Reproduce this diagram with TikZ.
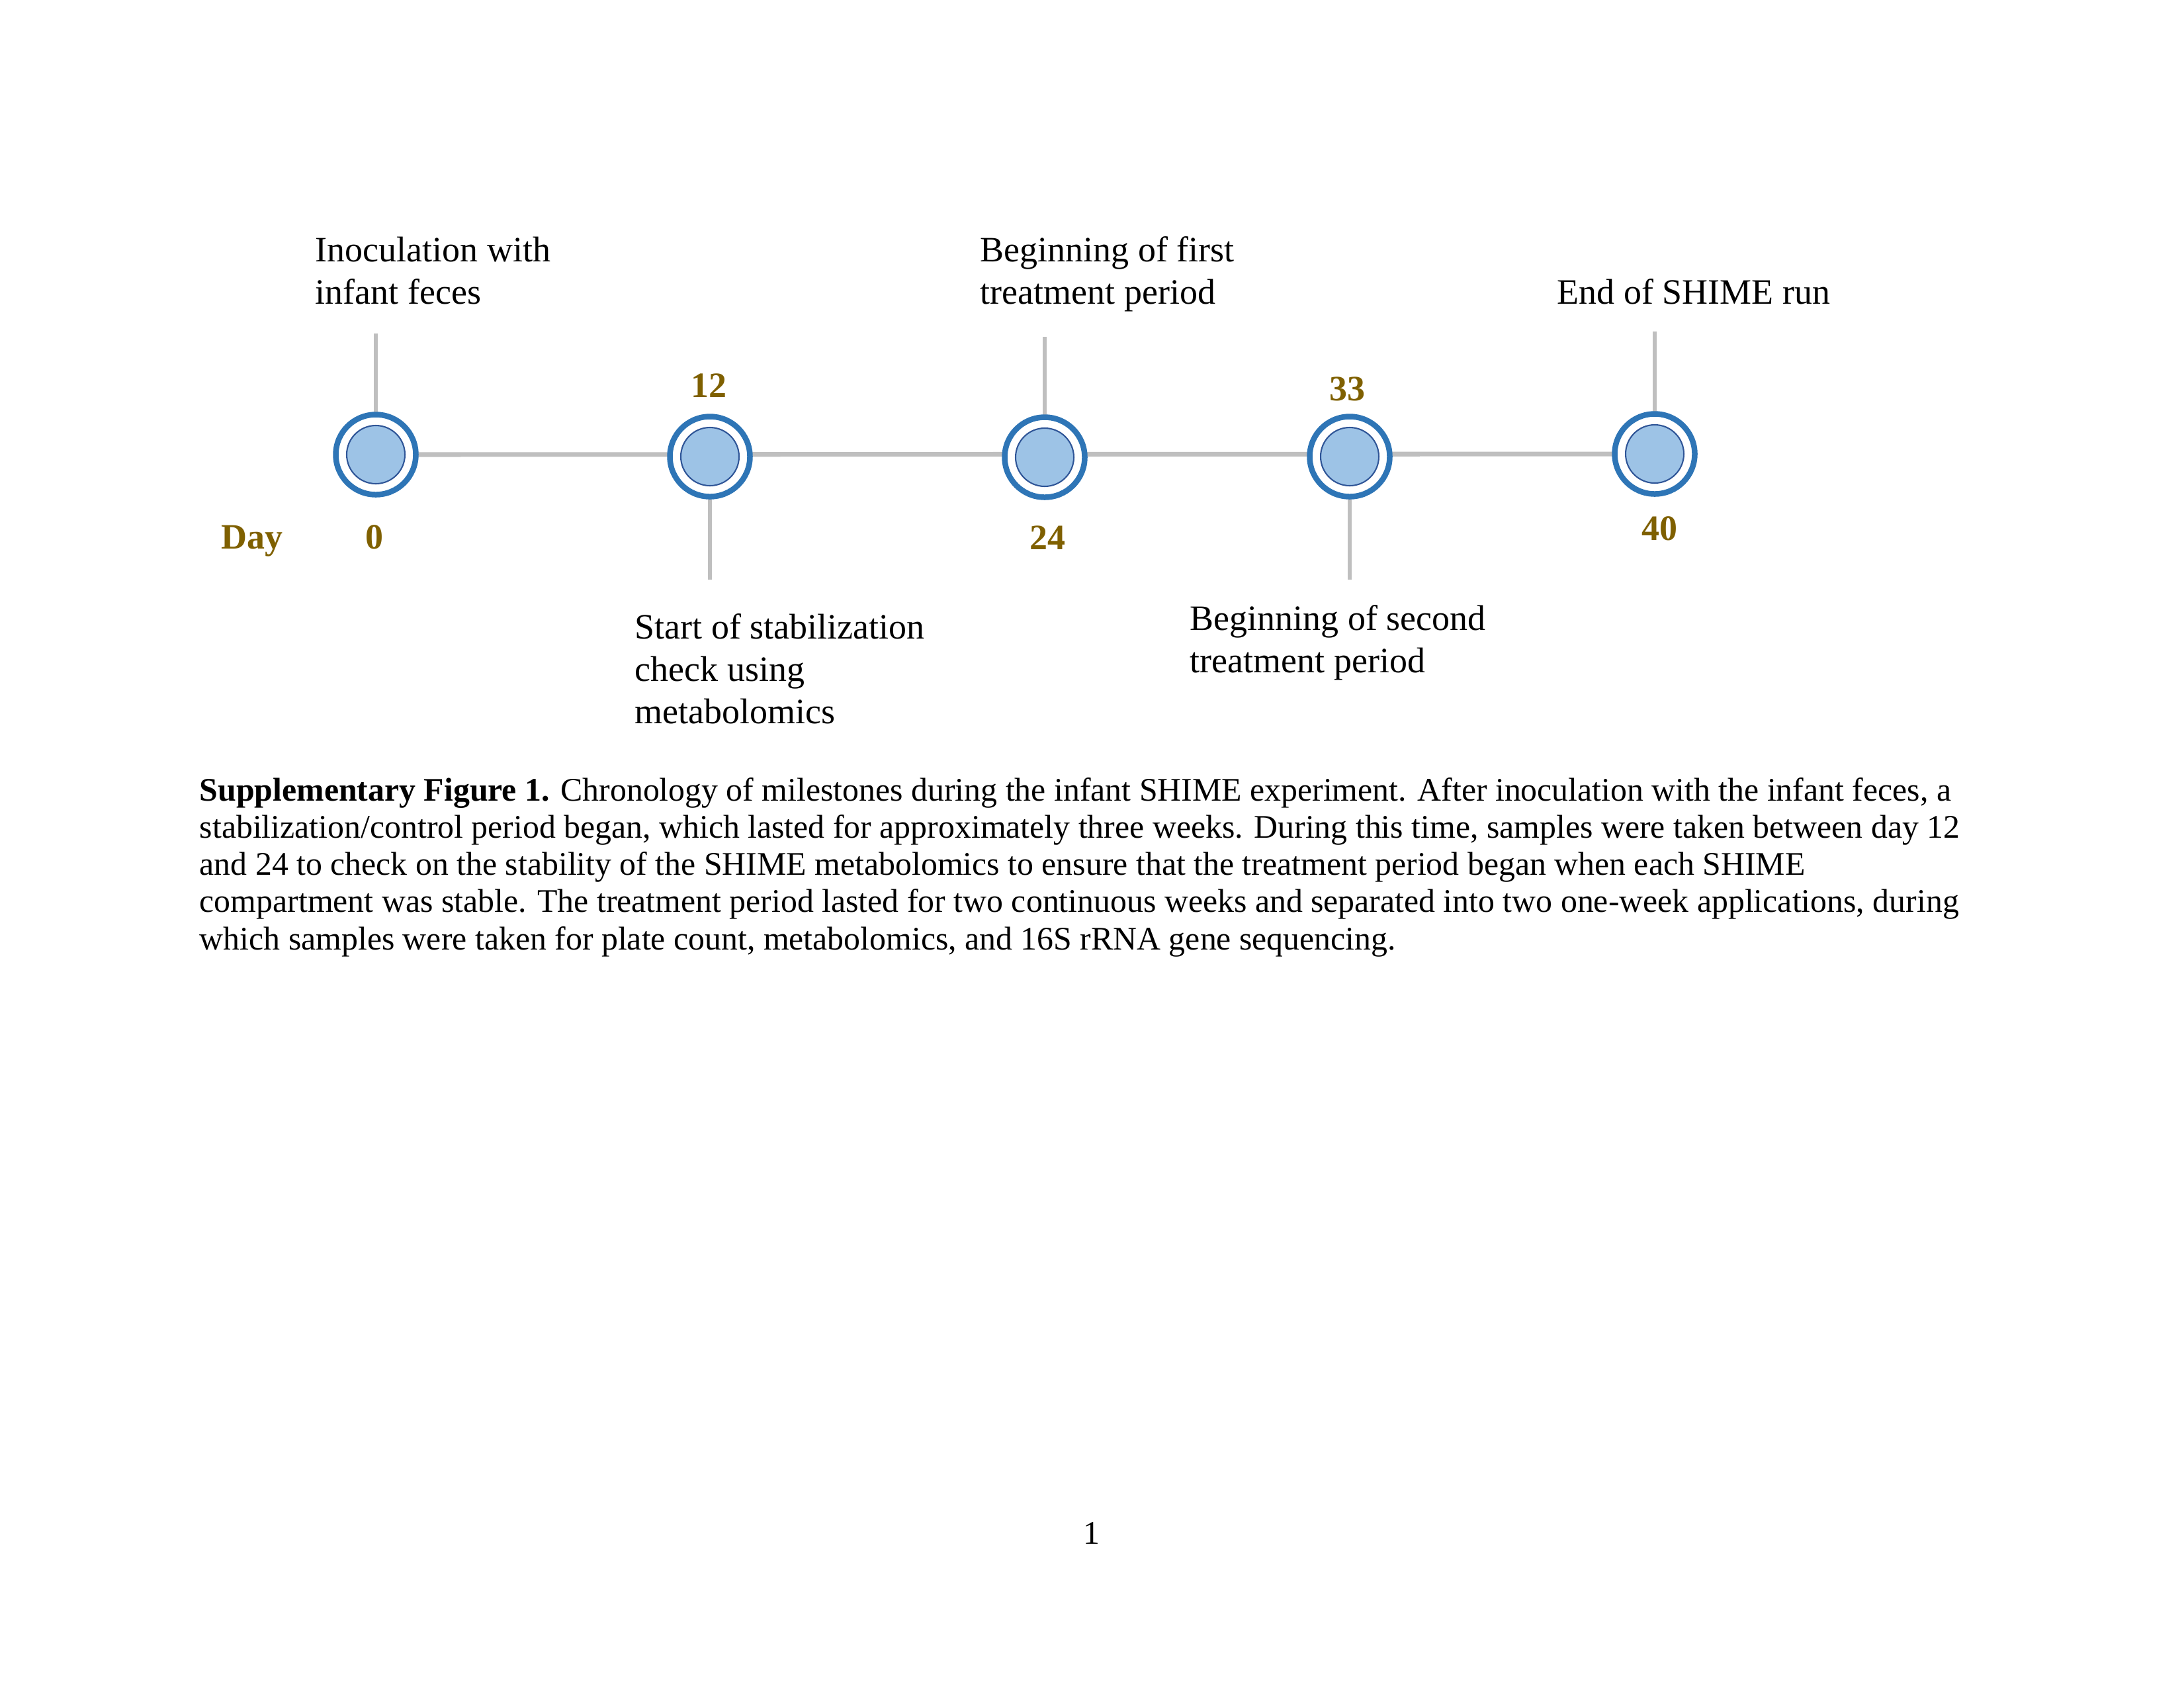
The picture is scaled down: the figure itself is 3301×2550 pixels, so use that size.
\documentclass[tikz,border=0pt]{standalone}
\usepackage{fontspec}
\setmainfont{Liberation Serif}
\usetikzlibrary{backgrounds}
\definecolor{ringblue}{HTML}{2E75B6}
\definecolor{diskfill}{HTML}{9DC3E6}
\definecolor{diskline}{HTML}{2F5597}
\definecolor{daycol}{HTML}{7F6000}
\definecolor{tlgray}{HTML}{BFBFBF}
\tikzset{
  ring/.style={circle, draw=ringblue, fill=white, line width=2.04bp, minimum size=29.04bp, inner sep=0pt},
  disk/.style={circle, draw=diskline, fill=diskfill, line width=0.5bp, minimum size=21.12bp, inner sep=0pt},
  hline/.style={draw=tlgray, line width=1.7bp},
  vline/.style={draw=tlgray, line width=1.5bp},
  lbl/.style={anchor=base west, inner sep=0pt, align=left, font=\fontsize{13}{15.3}\selectfont},
  daynum/.style={anchor=base, inner sep=0pt, text=daycol, font=\fontsize{13}{15}\selectfont\bfseries},
  caption/.style={anchor=base west, inner sep=0pt, align=left, font=\fontsize{12}{13.55}\selectfont}
}
\begin{document}
\begin{tikzpicture}[x=0.24bp, y=-0.24bp]
\useasboundingbox (0,0) rectangle (3301,2550);
% milestone circles
\node[ring] (d0)  at (568,687)  {};
\node[ring] (d12) at (1073,690) {};
\node[ring] (d24) at (1579,691) {};
\node[ring] (d33) at (2040,690) {};
\node[ring] (d40) at (2501,686) {};
\node[disk] (c0)  at (d0)  {};
\node[disk] (c12) at (d12) {};
\node[disk] (c24) at (d24) {};
\node[disk] (c33) at (d33) {};
\node[disk] (c40) at (d40) {};
% free ends of the ticks
\coordinate (t0)  at (568,504);
\coordinate (t12) at (1073,876);
\coordinate (t24) at (1579,509);
\coordinate (t33) at (2040,876);
\coordinate (t40) at (2501,501);
\begin{scope}[on background layer]
  \draw[hline] (d0.center) -- (d40.center);
  \draw[vline] (t0) -- (d0.center);
  \draw[vline] (t12) -- (d12.center);
  \draw[vline] (t24) -- (d24.center);
  \draw[vline] (t33) -- (d33.center);
  \draw[vline] (t40) -- (d40.center);
\end{scope}
% day numbers
\node[daynum, anchor=base west] (day) at (334,829) {Day};
\node[daynum] (n0)  at (566,829)  {0};
\node[daynum] (n12) at (1071,600) {12};
\node[daynum] (n24) at (1583,830) {24};
\node[daynum] (n33) at (2036,605) {33};
\node[daynum] (n40) at (2508,816) {40};
% milestone labels (anchor is the baseline of the last line)
\node[lbl] (l0)  at (476,459)  {Inoculation with\\infant feces};
\node[lbl] (l24) at (1481,459) {Beginning of first\\treatment period};
\node[lbl] (l40) at (2353,459) {End of SHIME run};
\node[lbl] (l12) at (959,1093) {Start of stabilization\\check using\\metabolomics};
\node[lbl] (l33) at (1798,1016) {Beginning of second\\treatment period};
% caption
\node[caption] (cap) at (301,1435) {\textbf{Supplementary Figure 1.} Chronology of milestones during the infant SHIME experiment. After inoculation with the infant feces, a\\
stabilization/control period began, which lasted for approximately three weeks. During this time, samples were taken between day 12\\
and 24 to check on the stability of the SHIME metabolomics to ensure that the treatment period began when each SHIME\\
compartment was stable. The treatment period lasted for two continuous weeks and separated into two one-week applications, during\\
which samples were taken for plate count, metabolomics, and 16S rRNA gene sequencing.};
% page number
\node[anchor=base, inner sep=0pt, font=\fontsize{12}{14}\selectfont] (pg) at (1650,2333) {1};
\end{tikzpicture}
\end{document}
